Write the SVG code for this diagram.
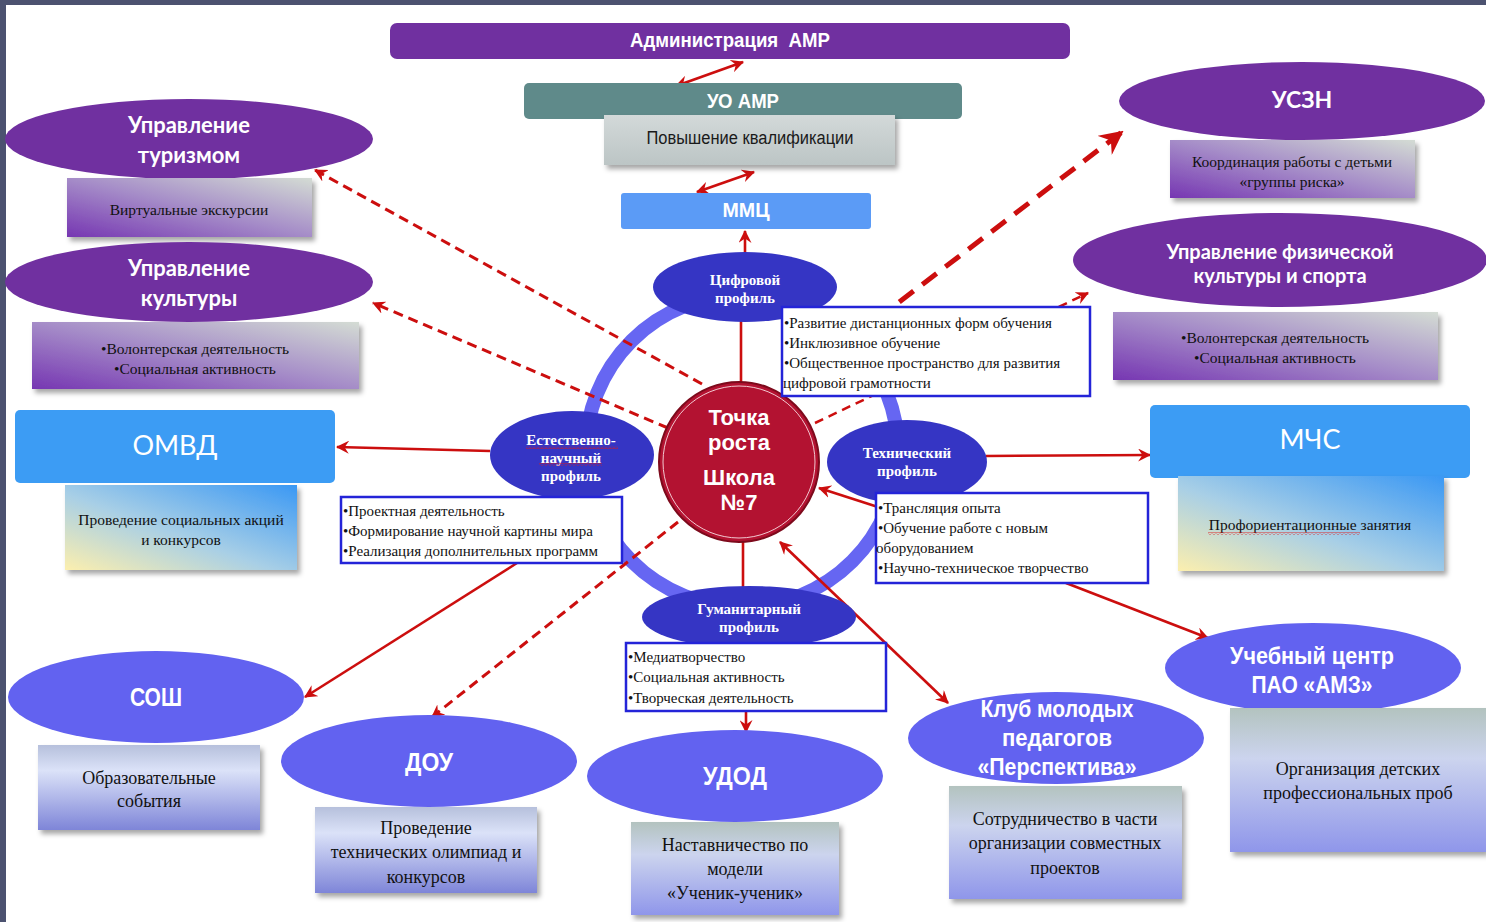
<svg xmlns="http://www.w3.org/2000/svg" width="1486" height="922" viewBox="0 0 1486 922">
<style>
.hdr{font-family:"Lato","Open Sans",sans-serif;font-weight:700;fill:#fff;text-anchor:middle;dominant-baseline:central}
.nar{font-family:"Liberation Sans Narrow","Liberation Sans",sans-serif;fill:#fff;text-anchor:middle;dominant-baseline:central}
.big{font-family:"Lato","Open Sans",sans-serif;font-weight:400;fill:#fff;text-anchor:middle;dominant-baseline:central}
.prof{font-family:"Liberation Serif",serif;font-weight:700;fill:#fff;text-anchor:middle;dominant-baseline:central;font-size:15px}
.lst{font-family:"Liberation Serif",serif;fill:#111;font-size:15px;dominant-baseline:central}
.cap{font-family:"Liberation Serif",serif;fill:#111;font-size:15.5px;text-anchor:middle;dominant-baseline:central}
.cap2{font-family:"Liberation Serif",serif;fill:#111;font-size:18px;text-anchor:middle;dominant-baseline:central}
.ctr{font-family:"Liberation Sans",sans-serif;font-weight:700;fill:#fff;text-anchor:middle;dominant-baseline:central;font-size:22px}
.tb{fill:#fff;stroke:#2424d8;stroke-width:2.5}
.pe{fill:#7030a0}
.be{fill:#3535c4}
.le{fill:#6262f0}
.sol{fill:none;stroke:#cc0e0e;stroke-width:2.6}
.dsh{fill:none;stroke:#cc0e0e;stroke-width:3;stroke-dasharray:10 6}
</style>
<defs>
<marker id="ah" viewBox="0 0 12 12" refX="11" refY="6" markerWidth="13" markerHeight="13" markerUnits="userSpaceOnUse" orient="auto-start-reverse">
<path d="M0,0 L12,6 L0,12 L4,6 z" fill="#cc0e0e"/>
</marker>
<marker id="ahb" viewBox="0 0 12 12" refX="11" refY="6" markerWidth="24" markerHeight="24" markerUnits="userSpaceOnUse" orient="auto">
<path d="M0,0 L12,6 L0,12 L4,6 z" fill="#cc0e0e"/>
</marker>
<linearGradient id="gP" x1="0" y1="1" x2="1" y2="0">
<stop offset="0" stop-color="#7636b2"/><stop offset="0.5" stop-color="#a58cc8"/><stop offset="1" stop-color="#d4dcd4"/>
</linearGradient>
<linearGradient id="gB" x1="0" y1="1" x2="1" y2="0">
<stop offset="0" stop-color="#fcefae"/><stop offset="0.45" stop-color="#a8cfe6"/><stop offset="1" stop-color="#3a98f4"/>
</linearGradient>
<linearGradient id="gL" x1="0" y1="0" x2="0" y2="1">
<stop offset="0" stop-color="#b6c0dc"/><stop offset="0.3" stop-color="#dbe2f8"/><stop offset="1" stop-color="#7e85d8"/>
</linearGradient>
<linearGradient id="gL2" x1="0" y1="0" x2="0" y2="1">
<stop offset="0" stop-color="#b3c3bf"/><stop offset="0.35" stop-color="#ccd4ee"/><stop offset="1" stop-color="#8f96ea"/>
</linearGradient>
<linearGradient id="gG" x1="0" y1="0" x2="0" y2="1">
<stop offset="0" stop-color="#d3d9d9"/><stop offset="1" stop-color="#bcc5c5"/>
</linearGradient>
<filter id="sh" x="-10%" y="-10%" width="130%" height="140%">
<feDropShadow dx="3" dy="4" stdDeviation="2.5" flood-color="#000" flood-opacity="0.35"/>
</filter>
<pattern id="wavy" width="4" height="3" patternUnits="userSpaceOnUse">
<path d="M0,2.5 L2,0.5 L4,2.5" fill="none" stroke="#e01818" stroke-width="0.9"/>
</pattern>
</defs>

<rect x="0" y="0" width="1486" height="922" fill="#fff"/>
<rect x="0" y="0" width="1486" height="5" fill="#4c5270"/>
<rect x="0" y="0" width="6" height="922" fill="#4c5270"/>

<g id="ring">
<circle cx="742" cy="451" r="156" fill="none" stroke="#6666f2" stroke-width="14"/>
</g>

<g id="connectors">
<line class="sol" x1="676" y1="86" x2="743" y2="62" marker-start="url(#ah)" marker-end="url(#ah)"/>
<line class="sol" x1="697" y1="192" x2="754" y2="172" marker-start="url(#ah)" marker-end="url(#ah)"/>
<line class="sol" x1="745" y1="254" x2="745" y2="231" marker-end="url(#ah)"/>
<line class="sol" x1="741" y1="318" x2="741" y2="384"/>
<line class="sol" x1="743" y1="540" x2="743" y2="590"/>
<line class="dsh" x1="702" y1="384" x2="315" y2="170" marker-end="url(#ah)"/>
<line class="dsh" x1="668" y1="428" x2="373" y2="303" marker-end="url(#ah)"/>
<line class="dsh" x1="784" y1="390" x2="1122" y2="132" style="stroke-width:5;stroke-dasharray:18 11" marker-end="url(#ahb)"/>
<line class="dsh" x1="815" y1="423" x2="1088" y2="293" style="stroke-width:2.5;stroke-dasharray:9 6" marker-end="url(#ah)"/>
<line class="dsh" x1="678" y1="522" x2="432" y2="717" marker-end="url(#ah)"/>
<line class="sol" x1="490" y1="451" x2="337" y2="447" marker-end="url(#ah)"/>
<line class="sol" x1="986" y1="456" x2="1150" y2="455" marker-end="url(#ah)"/>
<line class="sol" x1="517" y1="563" x2="305" y2="697" marker-end="url(#ah)"/>
<line class="sol" x1="1066" y1="583" x2="1208" y2="638" marker-end="url(#ah)"/>
<line class="sol" x1="780" y1="542" x2="948" y2="703" marker-start="url(#ah)" marker-end="url(#ah)"/>
<line class="sol" x1="878" y1="507" x2="819" y2="488" marker-end="url(#ah)"/>
<line class="sol" x1="746" y1="711" x2="746" y2="732" marker-end="url(#ah)"/>
</g>

<g id="admin">
<rect x="390" y="23" width="680" height="36" rx="7" fill="#7030a0"/>
<text class="nar" x="730" y="40" font-size="20" font-weight="700" textLength="200" lengthAdjust="spacingAndGlyphs" style="white-space:pre">Администрация  АМР</text>
</g>
<g id="uo">
<rect x="524" y="83" width="438" height="36" rx="5" fill="#5f8a8a"/>
<text class="nar" x="743" y="101" font-size="20" font-weight="700" textLength="72" lengthAdjust="spacingAndGlyphs">УО АМР</text>
</g>
<g id="kval">
<rect x="604" y="115" width="291" height="50" fill="url(#gG)" filter="url(#sh)"/>
<text class="nar" x="750" y="138" font-size="18" style="fill:#1a1a1a" textLength="207" lengthAdjust="spacingAndGlyphs">Повышение квалификации</text>
</g>
<g id="mmc">
<rect x="621" y="193" width="250" height="36" rx="3" fill="#5b9bf6"/>
<text class="nar" x="746" y="210" font-size="20" font-weight="700" textLength="47" lengthAdjust="spacingAndGlyphs">ММЦ</text>
</g>

<g id="turizm">
<ellipse class="pe" cx="189" cy="139" rx="184" ry="40"/>
<text class="hdr" x="189" y="124" font-size="22">Управление</text>
<text class="hdr" x="189" y="154" font-size="22">туризмом</text>
<rect x="67" y="178" width="245" height="59" fill="url(#gP)" filter="url(#sh)"/>
<text class="cap" x="189" y="209">Виртуальные экскурсии</text>
</g>
<g id="kultura">
<ellipse class="pe" cx="189" cy="282" rx="184" ry="40"/>
<text class="hdr" x="189" y="267" font-size="22">Управление</text>
<text class="hdr" x="189" y="297" font-size="22">культуры</text>
<rect x="32" y="322" width="327" height="67" fill="url(#gP)" filter="url(#sh)"/>
<text class="cap" x="195" y="348">•Волонтерская деятельность</text>
<text class="cap" x="195" y="368">•Социальная активность</text>
</g>
<g id="omvd">
<rect x="15" y="410" width="320" height="73" rx="5" fill="#3c9cf4"/>
<text class="big" x="175" y="444" font-size="27">ОМВД</text>
<rect x="65" y="485" width="232" height="85" fill="url(#gB)" filter="url(#sh)"/>
<text class="cap" x="181" y="519">Проведение социальных акций</text>
<text class="cap" x="181" y="539">и конкурсов</text>
</g>

<g id="uszn">
<ellipse class="pe" cx="1302" cy="101" rx="183" ry="39"/>
<text class="hdr" x="1302" y="99" font-size="23">УСЗН</text>
<rect x="1170" y="140" width="245" height="58" fill="url(#gP)" filter="url(#sh)"/>
<text class="cap" x="1292" y="161">Координация работы с детьми</text>
<text class="cap" x="1292" y="181">«группы риска»</text>
</g>
<g id="fizra">
<ellipse class="pe" cx="1280" cy="260" rx="207" ry="47"/>
<text class="hdr" x="1280" y="251" font-size="20">Управление физической</text>
<text class="hdr" x="1280" y="275" font-size="20">культуры и спорта</text>
<rect x="1113" y="312" width="325" height="68" fill="url(#gP)" filter="url(#sh)"/>
<text class="cap" x="1275" y="337">•Волонтерская деятельность</text>
<text class="cap" x="1275" y="357">•Социальная активность</text>
</g>
<g id="mchs">
<rect x="1150" y="405" width="320" height="73" rx="5" fill="#3c9cf4"/>
<text class="big" x="1310" y="438" font-size="27">МЧС</text>
<rect x="1178" y="476" width="266" height="95" fill="url(#gB)" filter="url(#sh)"/>
<text class="cap" x="1310" y="524">Профориентационные занятия</text>
<rect x="1208" y="532" width="152" height="3" fill="url(#wavy)"/>
</g>

<g id="center">
<ellipse cx="739" cy="462" rx="80" ry="80" fill="#b31231" stroke="#7d0a1c" stroke-width="2"/>
<ellipse cx="739" cy="462" rx="76" ry="76" fill="none" stroke="#f2c8d0" stroke-width="1"/>
<text class="ctr" x="739" y="417">Точка</text>
<text class="ctr" x="739" y="442">роста</text>
<text class="ctr" x="739" y="477">Школа</text>
<text class="ctr" x="739" y="502">№7</text>
</g>

<g id="cifr">
<ellipse class="be" cx="745" cy="287" rx="92" ry="35"/>
<text class="prof" x="745" y="280">Цифровой</text>
<text class="prof" x="745" y="298">профиль</text>
<rect class="tb" x="782" y="307" width="308" height="89"/>
<text class="lst" x="784" y="323">•Развитие дистанционных форм обучения</text>
<text class="lst" x="784" y="343">•Инклюзивное обучение</text>
<text class="lst" x="784" y="363">•Общественное пространство для развития</text>
<text class="lst" x="783" y="383">цифровой грамотности</text>
</g>
<g id="estnauch">
<ellipse class="be" cx="572" cy="455" rx="82" ry="44"/>
<text class="prof" x="571" y="440">Естественно-</text>
<text class="prof" x="571" y="458">научный</text>
<text class="prof" x="571" y="476">профиль</text>
<rect x="526" y="446" width="92" height="3" fill="url(#wavy)"/>
<rect x="539" y="463" width="63" height="3" fill="url(#wavy)"/>
<rect class="tb" x="341" y="497" width="281" height="66"/>
<text class="lst" x="343" y="511">•Проектная деятельность</text>
<text class="lst" x="343" y="531">•Формирование научной картины мира</text>
<text class="lst" x="343" y="551">•Реализация дополнительных программ</text>
</g>
<g id="tehn">
<ellipse class="be" cx="907" cy="462" rx="80" ry="42"/>
<text class="prof" x="907" y="453">Технический</text>
<text class="prof" x="907" y="471">профиль</text>
<rect class="tb" x="876" y="493" width="272" height="90"/>
<text class="lst" x="878" y="508">•Трансляция опыта</text>
<text class="lst" x="878" y="528">•Обучение работе с новым</text>
<text class="lst" x="876" y="548">оборудованием</text>
<text class="lst" x="878" y="568">•Научно-техническое творчество</text>
</g>
<g id="guman">
<ellipse class="be" cx="749" cy="617" rx="107" ry="31"/>
<text class="prof" x="749" y="609">Гуманитарный</text>
<text class="prof" x="749" y="627">профиль</text>
<rect class="tb" x="626" y="643" width="260" height="68"/>
<text class="lst" x="628" y="657">•Медиатворчество</text>
<text class="lst" x="628" y="677">•Социальная активность</text>
<text class="lst" x="628" y="698">•Творческая деятельность</text>
</g>

<g id="sosh">
<ellipse class="le" cx="156" cy="697" rx="148" ry="46"/>
<text class="nar" x="156" y="697" font-size="25" font-weight="700" textLength="52" lengthAdjust="spacingAndGlyphs">СОШ</text>
<rect x="38" y="745" width="222" height="85" fill="url(#gL)" filter="url(#sh)"/>
<text class="cap2" x="149" y="778">Образовательные</text>
<text class="cap2" x="149" y="801">события</text>
</g>
<g id="dou">
<ellipse class="le" cx="429" cy="761" rx="148" ry="46"/>
<text class="nar" x="429" y="762" font-size="25" font-weight="700" textLength="48" lengthAdjust="spacingAndGlyphs">ДОУ</text>
<rect x="315" y="807" width="222" height="86" fill="url(#gL)" filter="url(#sh)"/>
<text class="cap2" x="426" y="828">Проведение</text>
<text class="cap2" x="426" y="852">технических олимпиад и</text>
<text class="cap2" x="426" y="877">конкурсов</text>
</g>
<g id="udod">
<ellipse class="le" cx="735" cy="776" rx="148" ry="46"/>
<text class="nar" x="735" y="776" font-size="25" font-weight="700" textLength="64" lengthAdjust="spacingAndGlyphs">УДОД</text>
<rect x="631" y="822" width="208" height="93" fill="url(#gL2)" filter="url(#sh)"/>
<text class="cap2" x="735" y="845">Наставничество по</text>
<text class="cap2" x="735" y="869">модели</text>
<text class="cap2" x="735" y="893">«Ученик-ученик»</text>
</g>
<g id="klub">
<ellipse class="le" cx="1056" cy="738" rx="148" ry="46"/>
<text class="nar" x="1057" y="708" font-size="24" font-weight="700" textLength="153" lengthAdjust="spacingAndGlyphs">Клуб молодых</text>
<text class="nar" x="1057" y="737" font-size="24" font-weight="700" textLength="110" lengthAdjust="spacingAndGlyphs">педагогов</text>
<text class="nar" x="1057" y="766" font-size="24" font-weight="700" textLength="159" lengthAdjust="spacingAndGlyphs">«Перспектива»</text>
<rect x="949" y="786" width="233" height="113" fill="url(#gL2)" filter="url(#sh)"/>
<text class="cap2" x="1065" y="819">Сотрудничество в части</text>
<text class="cap2" x="1065" y="843">организации совместных</text>
<text class="cap2" x="1065" y="868">проектов</text>
</g>
<g id="uchcentr">
<ellipse class="le" cx="1313" cy="668" rx="148" ry="45"/>
<text class="nar" x="1312" y="655" font-size="24" font-weight="700" textLength="164" lengthAdjust="spacingAndGlyphs">Учебный центр</text>
<text class="nar" x="1312" y="684" font-size="24" font-weight="700" textLength="121" lengthAdjust="spacingAndGlyphs">ПАО «АМЗ»</text>
<rect x="1230" y="708" width="256" height="144" fill="url(#gL2)" filter="url(#sh)"/>
<text class="cap2" x="1358" y="769">Организация детских</text>
<text class="cap2" x="1358" y="793">профессиональных проб</text>
</g>
</svg>
